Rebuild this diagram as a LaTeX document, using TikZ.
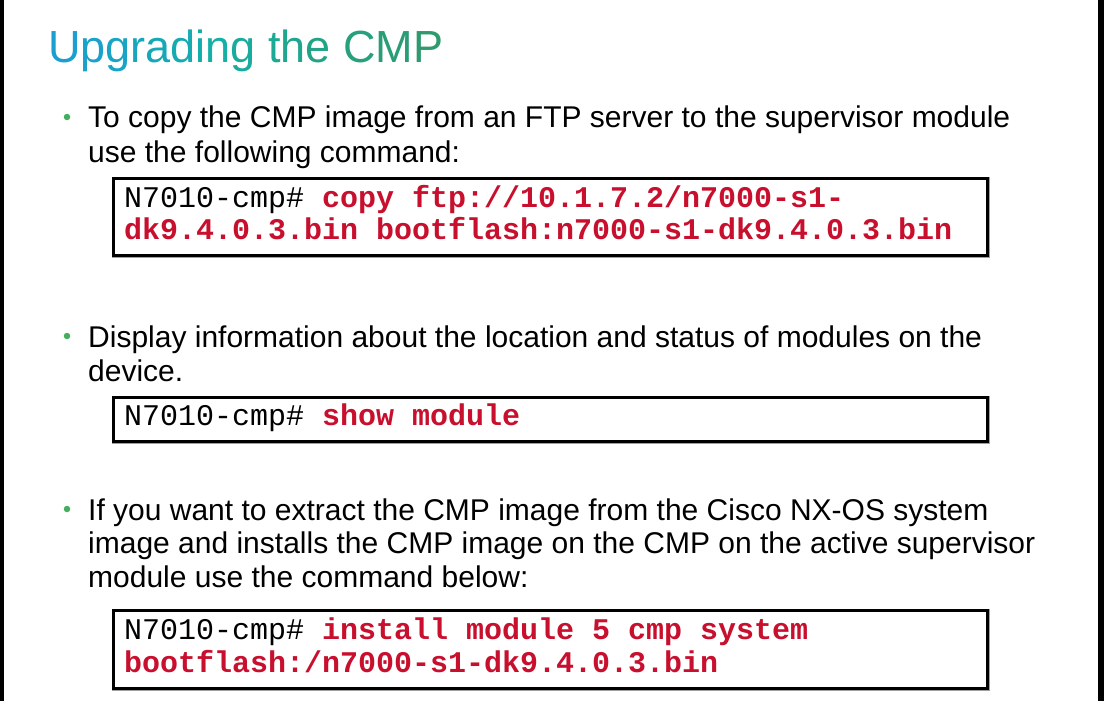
\documentclass[tikz,border=0pt]{standalone}
\usepackage{fontspec}
\setmainfont{Liberation Sans}
\setmonofont{Liberation Mono}
\definecolor{tA}{HTML}{1A9FD0}
\definecolor{tM}{HTML}{14AFA6}
\definecolor{tB}{HTML}{2E9A6E}
\definecolor{codered}{HTML}{C8102E}
\definecolor{bulletgreen}{HTML}{45AD5E}
\definecolor{shadowgray}{HTML}{A0A0A0}
\tikzset{
  body/.style={anchor=base west, inner sep=0pt, font=\fontsize{30}{34}\selectfont},
  code/.style={anchor=base west, inner sep=0pt, font=\ttfamily\fontsize{30}{34}\selectfont},
  codebox/.style={draw=black, line width=3pt, inner sep=0pt, fill=white},
  bulletdot/.style={circle, fill=bulletgreen, inner sep=0pt, minimum size=6.5pt},
}
\newcommand{\cmd}[1]{{\bfseries\color{codered}#1}}
\begin{document}
\begin{tikzpicture}[x=1pt,y=-1pt]
\useasboundingbox (0,0) rectangle (1104,701);
\fill[white] (0,0) rectangle (1104,701);
\fill[black] (0,0) rectangle (4,701);
\fill[black] (1098,0) rectangle (1104,701);

% title
\node[anchor=base west, inner sep=0pt, font=\fontsize{45}{50}\selectfont] (title) at (48,63)
 {{\color{tA}U}{\color{tM!14!tA}p}{\color{tM!29!tA}g}{\color{tM!43!tA}r}{\color{tM!57!tA}a}{\color{tM!71!tA}d}{\color{tM!86!tA}i}{\color{tM}n}{\color{tB!14!tM}g} {\color{tB!29!tM}t}{\color{tB!43!tM}h}{\color{tB!57!tM}e} {\color{tB!71!tM}C}{\color{tB!86!tM}M}{\color{tB}P}};

% bullet 1
\node[bulletdot] (d1) at (67,117) {};
\node[body] (b1a) at (88,128) {To copy the CMP image from an FTP server to the supervisor module};
\node[body] (b1b) at (88,162) {use the following command:};
\draw[shadowgray, line width=1pt] (112,177) rectangle (989.5,257.5);
\node[codebox, minimum width=874pt, minimum height=77pt] (box1) at (550.5,217) {};
\node[code] (c1a) at (124,207) {N7010-cmp\# \cmd{copy ftp://10.1.7.2/n7000-s1-}};
\node[code] (c1b) at (124,239) {\cmd{dk9.4.0.3.bin bootflash:n7000-s1-dk9.4.0.3.bin}};

% bullet 2
\node[bulletdot] (d2) at (67,336) {};
\node[body] (b2a) at (88,347) {Display information about the location and status of modules on the};
\node[body] (b2b) at (88,381) {device.};
\draw[shadowgray, line width=1pt] (112,396) rectangle (989.5,443);
\node[codebox, minimum width=874pt, minimum height=43.5pt] (box2) at (550.5,419.5) {};
\node[code] (c2a) at (124,425) {N7010-cmp\# \cmd{show module}};

% bullet 3
\node[bulletdot] (d3) at (67,509) {};
\node[body] (b3a) at (88,520) {If you want to extract the CMP image from the Cisco NX-OS system};
\node[body] (b3b) at (88,553) {image and installs the CMP image on the CMP on the active supervisor};
\node[body] (b3c) at (88,587) {module use the command below:};
\draw[shadowgray, line width=1pt] (112,609) rectangle (989.5,690);
\node[codebox, minimum width=874pt, minimum height=77.5pt] (box3) at (550.5,649.5) {};
\node[code] (c3a) at (124,639) {N7010-cmp\# \cmd{install module 5 cmp system}};
\node[code] (c3b) at (124,672) {\cmd{bootflash:/n7000-s1-dk9.4.0.3.bin}};
\end{tikzpicture}
\end{document}
